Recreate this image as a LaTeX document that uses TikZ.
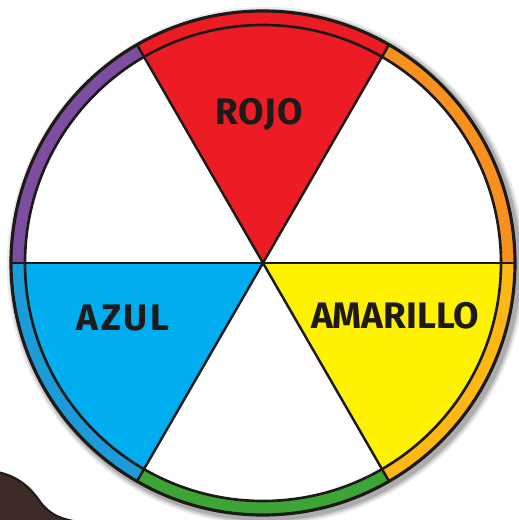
\documentclass[tikz,border=0pt]{standalone}
\usepackage{fontspec}
\setsansfont{Fira Sans}
\usepackage{tikz}
\usetikzlibrary{positioning, calc}
\definecolor{Rojo}{HTML}{ED1C24}
\definecolor{Naranja}{HTML}{F7901E}
\definecolor{Amarillo}{HTML}{FFF200}
\definecolor{AmaNaranja}{HTML}{FDB813}
\definecolor{Azul}{HTML}{00AEEF}
\definecolor{AzulAro}{HTML}{1B9BD7}
\definecolor{Verde}{HTML}{3DA535}
\definecolor{Violeta}{HTML}{7D4E9F}
\definecolor{Cafe}{HTML}{3E2A26}
\definecolor{Tinta}{HTML}{1E1A1A}

\begin{document}
\begin{tikzpicture}[
    x=0.02cm, y=0.02cm,
    rim/.style={draw=Tinta, line width=1.8pt},
    spoke/.style={draw=Tinta, line width=1.4pt},
    label/.style={font=\sffamily\bfseries\fontsize{21}{21}\selectfont, text=Tinta, inner sep=0pt}
]
\useasboundingbox (-263,-257) rectangle (255,263);

% Object in the corner
\fill[Cafe, draw=Tinta, line width=1.2pt] (-266,-209) .. controls (-245,-213) and (-232,-225) .. (-222,-240)
    .. controls (-214,-250) and (-205,-255) .. (-190,-258) -- (-190,-262) -- (-266,-262) -- cycle;

% Shadow
\foreach \r/\o in {259/0.08, 257/0.12, 255/0.16}
    \fill[black, opacity=\o] (3,-3) circle (\r);

% Coloured ring
\foreach \a/\b/\c in {0/60/Naranja, 60/120/Rojo, 120/180/Violeta, 180/240/AzulAro, 240/300/Verde, 300/360/AmaNaranja}
    \fill[\c] (\a:252) arc (\a:\b:252) -- (\b:238) arc (\b:\a:238) -- cycle;

% Sectors
\foreach \a/\b/\c in {0/60/white, 60/120/Rojo, 120/180/white, 180/240/Azul, 240/300/white, 300/360/Amarillo}
    \fill[\c] (0,0) -- (\a:238) arc (\a:\b:238) -- cycle;

% Centre and spokes
\coordinate (centro) at (0,0);
\coordinate (izq) at (180:252);
\coordinate (der) at (0:252);
\draw[spoke] (izq) -- (der);
\foreach \a in {60,120,240,300} {
    \coordinate (p\a) at (\a:252);
    \draw[spoke] (centro) -- (p\a);
}

% Rims
\draw[rim] (centro) circle (252);
\draw[rim, line width=1.5pt] (centro) circle (238);

% Labels
\node[label] (rojo) at (-4,148) {\addfontfeature{LetterSpace=3}ROJO};
\node[label] (azul) at (-140,-55) {\addfontfeature{LetterSpace=8}AZUL};
\node[label] (amarillo) at (132,-53) {AMARILLO};

\end{tikzpicture}
\end{document}
